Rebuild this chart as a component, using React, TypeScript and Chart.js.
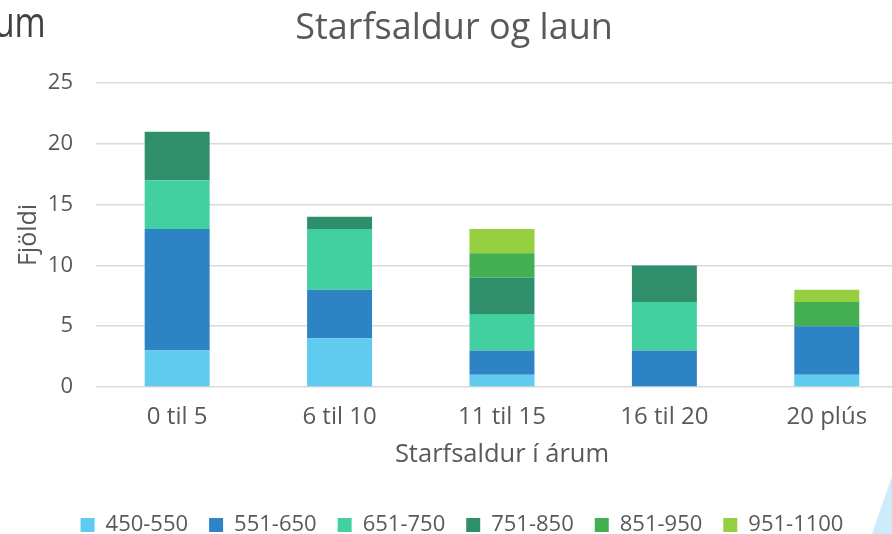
import React, { useEffect, useRef } from "react";
import { Chart, registerables } from "chart.js";

Chart.register(...registerables);

const categories = ["0 til 5", "6 til 10", "11 til 15", "16 til 20", "20 plús"];
const seriesNames = ["450-550", "551-650", "651-750", "751-850", "851-950", "951-1100"];
const s450_550 = [3, 4, 1, 0, 1];
const s551_650 = [10, 4, 2, 3, 4];
const s651_750 = [4, 5, 3, 4, 0];
const s751_850 = [4, 1, 3, 3, 0];
const s851_950 = [0, 0, 2, 0, 2];
const s951_1100 = [0, 0, 2, 0, 1];
const seriesValues = [s450_550, s551_650, s651_750, s751_850, s851_950, s951_1100];
const seriesColors = ["#5ECBEF", "#2E83C5", "#43D0A0", "#2E8F6A", "#43AF52", "#96CF3F"];
const yMin = 0;
const yMax = 25;
const yStep = 5;

const FONT = "'Open Sans', 'DejaVu Sans', sans-serif";
const TEXT = "#595959";

const legendShift = {
  id: "legendShift",
  afterLayout(chart: any) {
    const lg = chart.legend;
    if (lg) {
      lg.left += 8;
      lg.right += 8;
    }
  },
};

export default function App() {
  const ref = useRef<HTMLCanvasElement | null>(null);

  useEffect(() => {
    if (!ref.current) return;
    const chart = new Chart(ref.current, {
      type: "bar",
      data: {
        labels: categories,
        datasets: seriesNames.map((name, i) => ({
          label: name,
          data: seriesValues[i],
          backgroundColor: seriesColors[i],
          borderWidth: 0,
          barPercentage: 0.4,
          categoryPercentage: 1.0,
        })),
      },
      plugins: [legendShift],
      options: {
        responsive: false,
        animation: false,
        layout: { padding: { left: 0, right: 4, top: 0, bottom: -12 } },
        plugins: {
          title: {
            display: true,
            text: "Starfsaldur og laun",
            color: TEXT,
            font: { family: FONT, size: 36, weight: "normal" },
            padding: { top: 7, bottom: 32.8 },
          },
          legend: {
            position: "bottom",
            labels: {
              boxWidth: 14,
              boxHeight: 14,
              color: TEXT,
              font: { family: FONT, size: 22 },
              padding: 21,
            },
          },
          tooltip: { enabled: false },
        },
        scales: {
          x: {
            stacked: true,
            grid: { display: false },
            border: { display: false },
            ticks: { color: TEXT, font: { family: FONT, size: 24 }, padding: 8 },
            title: {
              display: true,
              text: "Starfsaldur í árum",
              color: TEXT,
              font: { family: FONT, size: 25.5 },
              padding: { top: -0.6, bottom: 23.2 },
            },
          },
          y: {
            stacked: true,
            min: yMin,
            max: yMax,
            ticks: { stepSize: yStep, color: TEXT, font: { family: FONT, size: 22 }, padding: 23 },
            grid: { color: "#D9D9D9", lineWidth: 1.5, drawTicks: false },
            border: { display: false },
            title: {
              display: true,
              text: "Fjöldi",
              color: TEXT,
              font: { family: FONT, size: 25 },
              padding: { top: 14, bottom: -19.2 },
            },
          },
        },
      },
    });
    return () => chart.destroy();
  }, []);

  return (
    <div
      style={{
        position: "absolute",
        left: 0,
        top: 0,
        width: 892,
        height: 534,
        overflow: "hidden",
        background: "#ffffff",
      }}
    >
      <canvas ref={ref} width={912} height={534} style={{ display: "block" }} />
      <div
        style={{
          position: "absolute",
          left: -6,
          top: -8,
          fontFamily: FONT,
          fontSize: 42,
          color: "#404040",
          transform: "scaleX(0.8)",
          transformOrigin: "left top",
          whiteSpace: "nowrap",
        }}
      >
        um
      </div>
      <div
        style={{
          position: "absolute",
          left: 872,
          top: 476,
          width: 20,
          height: 58,
          background: "#CDEBF8",
          clipPath: "polygon(100% 0, 100% 100%, 0 100%)",
        }}
      />
    </div>
  );
}
